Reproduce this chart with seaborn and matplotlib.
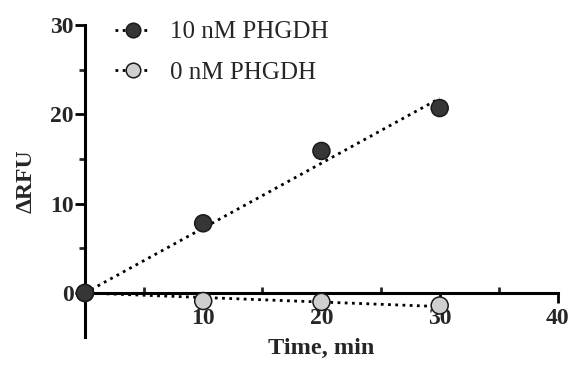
import numpy as np
import pandas as pd
import matplotlib
matplotlib.use("Agg")
import matplotlib.pyplot as plt
from matplotlib.lines import Line2D
from matplotlib.ticker import MultipleLocator
import seaborn as sns

time_min = [0, 10, 20, 30]
rfu_10nM = [0.0, 7.8, 15.9, 20.7]
rfu_0nM = [0.0, -0.9, -1.0, -1.4]
series_labels = ["10 nM PHGDH", "0 nM PHGDH"]
x_ticks = [10, 20, 30, 40]
y_ticks = [0, 10, 20, 30]

sns.set_theme(style="white")
plt.rcParams["font.family"] = ["Liberation Serif", "DejaVu Serif"]

fig = plt.figure(figsize=(5.74, 3.66), dpi=100)
ax = fig.add_axes([0.148, 0.0792, 0.824, 0.8525])

dark = "#363636"
light = "#cfcfcf"
dots = (0, (1, 1.6))

x = np.array(time_min, dtype=float)
fit_x = np.array([0, 30], dtype=float)
for vals in (rfu_10nM, rfu_0nM):
    y = np.array(vals)
    slope = (x * y).sum() / (x * x).sum()
    sns.lineplot(x=fit_x, y=slope * fit_x, ax=ax, color="black", lw=2.0,
                 linestyle=dots, zorder=3, clip_on=False)

# 0 nM first so that the 10 nM marker sits on top at the origin
df = pd.DataFrame({"t": time_min * 2,
                   "v": rfu_0nM + rfu_10nM,
                   "s": [series_labels[1]] * 4 + [series_labels[0]] * 4})
sns.scatterplot(data=df, x="t", y="v", hue="s",
                palette={series_labels[0]: dark, series_labels[1]: light},
                s=150, edgecolor="#1a1a1a", linewidth=1.1, ax=ax,
                zorder=5, clip_on=False, legend=False)

ax.set_xlim(0, 40)
ax.set_ylim(-4.93, 30)
ax.spines["bottom"].set_position(("data", 0))
ax.spines["top"].set_visible(False)
ax.spines["right"].set_visible(False)
for sp in ("left", "bottom"):
    ax.spines[sp].set_linewidth(2.2)
    ax.spines[sp].set_color("black")

ax.set_xticks(x_ticks)
ax.set_yticks(y_ticks)
ax.xaxis.set_minor_locator(MultipleLocator(5))
ax.yaxis.set_minor_locator(MultipleLocator(5))
ax.tick_params(axis="both", which="major", direction="out", length=7, width=2,
               color="black", labelsize=17, bottom=True, left=True)
ax.tick_params(axis="x", which="major", pad=4)
ax.tick_params(axis="y", which="major", pad=1)
ax.tick_params(axis="x", which="minor", direction="in", length=4, width=2,
               bottom=True)
ax.tick_params(axis="y", which="minor", direction="out", length=4, width=2,
               left=True)
for lab in ax.get_xticklabels() + ax.get_yticklabels():
    lab.set_fontweight("bold")

ax.set_xlabel("Time, min", fontsize=17.5, fontweight="bold")
ax.set_ylabel("ΔRFU", fontsize=17, fontweight="bold")
ax.xaxis.set_label_coords(0.5, -0.003)
ax.yaxis.set_label_coords(-0.102, 0.5)
ax.grid(False)

handles = [
    Line2D([0], [0], color="black", lw=2, linestyle=dots, marker="o",
           markersize=10.5, markerfacecolor=dark, markeredgecolor="#1a1a1a",
           markeredgewidth=1.1),
    Line2D([0], [0], color="black", lw=2, linestyle=dots, marker="o",
           markersize=10.5, markerfacecolor=light, markeredgecolor="#1a1a1a",
           markeredgewidth=1.1),
]
ax.legend(handles, series_labels, loc="upper left",
          bbox_to_anchor=(115 / 574, 1 - 21 / 366), bbox_transform=fig.transFigure,
          frameon=False, fontsize=18, handlelength=1.4, handletextpad=0.8,
          labelspacing=0.72, borderpad=0, borderaxespad=0)

fig.savefig("out.png", dpi=100)
